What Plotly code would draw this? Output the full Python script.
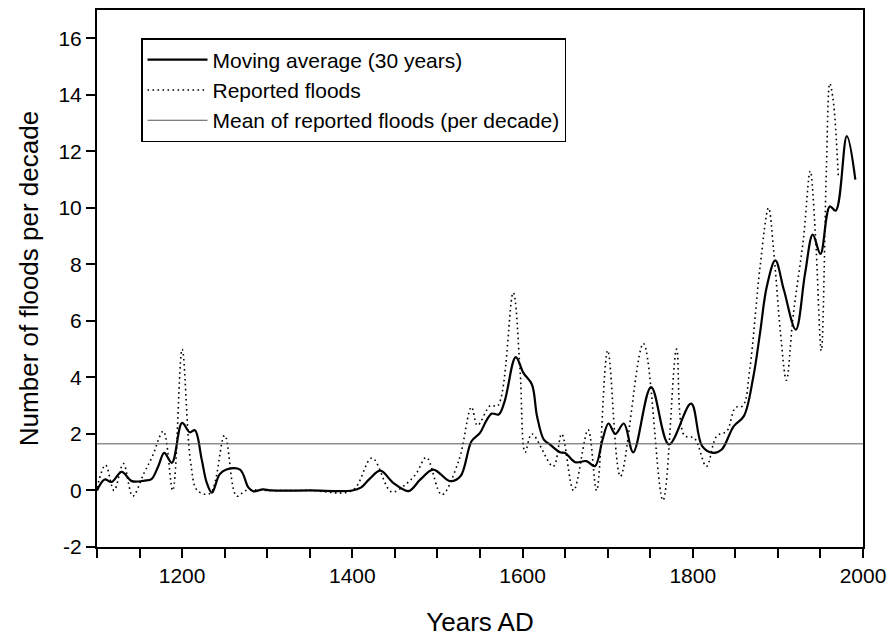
import plotly.graph_objects as go

# Reported floods (dotted curve)
flood_years = [1100, 1110, 1120, 1131, 1142, 1155, 1165, 1178, 1189, 1200,
               1210, 1218, 1233, 1250, 1264, 1275, 1300, 1350, 1400, 1423,
               1446, 1462, 1475, 1487, 1505, 1525, 1540, 1547, 1562, 1571,
               1589, 1597, 1603, 1611, 1636, 1646, 1660, 1677, 1687, 1700,
               1715, 1742, 1765, 1781, 1790, 1802, 1816, 1828, 1840, 1850,
               1859, 1867, 1879, 1889, 1895, 1903, 1910, 1918, 1930, 1938,
               1944, 1951, 1957, 1961, 1965, 1971]
flood_values = [0.1, 0.9, 0.0, 0.95, -0.2, 0.6, 1.2, 2.1, 0.0, 5.0,
                1.0, 0.0, -0.1, 1.95, -0.2, 0.0, 0.0, 0.0, 0.0, 1.15,
                -0.05, 0.2, 0.6, 1.17, -0.15, 1.05, 2.95, 2.3, 3.0, 3.0,
                7.0, 4.3, 1.35, 2.0, 0.85, 2.0, 0.0, 2.15, 0.0, 4.95,
                0.5, 5.2, -0.35, 5.0, 1.95, 1.85, 0.85, 1.92, 2.1, 2.93,
                3.0, 4.3, 7.9, 10.0, 8.5, 5.6, 3.9, 6.2, 8.9, 11.3,
                9.1, 4.95, 11.4, 14.4, 13.8, 11.1]

# Moving average (30 years), solid curve
ma_years = [1100, 1109, 1117, 1129, 1141, 1156, 1164, 1172, 1179, 1188,
            1200, 1209, 1215, 1223, 1229, 1235, 1244, 1252, 1268, 1278,
            1284, 1295, 1305, 1350, 1400, 1410, 1420, 1433, 1448, 1466,
            1480, 1495, 1515, 1527, 1540, 1550, 1558, 1564, 1572, 1579,
            1592, 1601, 1611, 1617, 1625, 1632, 1644, 1650, 1662, 1675,
            1685, 1694, 1701, 1709, 1719, 1730, 1751, 1772, 1798, 1811,
            1824, 1834, 1848, 1860, 1871, 1879, 1887, 1897, 1907, 1921,
            1932, 1941, 1950, 1961, 1968, 1981, 1991]
ma_values = [0.0, 0.39, 0.3, 0.66, 0.33, 0.35, 0.4, 0.86, 1.33, 0.98,
             2.39, 2.06, 2.13, 1.1, 0.27, -0.08, 0.57, 0.74, 0.74, 0.1,
             -0.03, 0.04, 0.0, 0.0, 0.0, 0.1, 0.4, 0.7, 0.27, -0.02,
             0.39, 0.74, 0.33, 0.5, 1.74, 2.04, 2.5, 2.72, 2.69, 3.16,
             4.72, 4.16, 3.75, 2.63, 1.8, 1.63, 1.35, 1.33, 1.0, 1.04,
             0.86, 1.8, 2.37, 2.0, 2.37, 1.35, 3.66, 1.63, 3.07, 1.57,
             1.33, 1.45, 2.27, 2.63, 4.0, 5.57, 7.22, 8.14, 7.1, 5.69,
             7.69, 9.05, 8.37, 10.05, 9.9, 12.54, 11.0]

# Mean of reported floods (per decade)
mean_years = [1100, 2000]
mean_value = 1.65

# Tick labels
y_tick_values = [-2, 0, 2, 4, 6, 8, 10, 12, 14, 16]
y_tick_labels = ["-2", "0", "2", "4", "6", "8", "10", "12", "14", "16"]
x_tick_values = [1200, 1400, 1600, 1800, 2000]
x_tick_labels = ["1200", "1400", "1600", "1800", "2000"]

FONT = "Liberation Sans, Arial, sans-serif"

fig = go.Figure()
fig.add_trace(go.Scatter(
    x=ma_years, y=ma_values, mode="lines",
    line=dict(color="black", width=2.2, shape="spline", smoothing=1.0),
    name="Moving average (30 years)"))
fig.add_trace(go.Scatter(
    x=flood_years, y=flood_values, mode="lines",
    line=dict(color="black", width=1.6, shape="spline", smoothing=1.0, dash="1.6px,3.4px"),
    name="Reported floods"))
fig.add_trace(go.Scatter(
    x=mean_years, y=[mean_value] * len(mean_years), mode="lines",
    line=dict(color="#555555", width=1),
    name="Mean of reported floods (per decade)"))

fig.update_layout(
    width=889, height=637,
    margin=dict(l=97, r=26, t=10, b=90, autoexpand=False),
    paper_bgcolor="white", plot_bgcolor="white",
    font=dict(family=FONT, color="black", size=21),
    showlegend=True,
    legend=dict(
        x=(141 - 97) / 766, y=(547 - 38) / 537, xanchor="left", yanchor="top",
        bordercolor="black", borderwidth=1.5, bgcolor="white",
        font=dict(family=FONT, size=21, color="black"),
        itemwidth=60, tracegroupgap=0,
    ),
)

fig.update_xaxes(
    range=[1100, 2000], tickvals=x_tick_values, ticktext=x_tick_labels,
    ticks="outside", ticklen=9, tickwidth=1.5, tickcolor="black",
    minor=dict(tick0=1100, dtick=50, ticks="outside", ticklen=9, tickwidth=1.5, tickcolor="black"),
    showline=True, linewidth=2, linecolor="black", mirror=True,
    showgrid=False, zeroline=False, automargin=False,
    tickfont=dict(size=21),
    title=dict(text="Years AD", font=dict(size=26), standoff=30),
)
fig.update_yaxes(
    range=[-2, 17], tickvals=y_tick_values, ticktext=y_tick_labels,
    ticks="outside", ticklen=9, tickwidth=1.5, tickcolor="black",
    showline=True, linewidth=2, linecolor="black", mirror=True,
    showgrid=False, zeroline=False, automargin=False,
    tickfont=dict(size=21),
    title=dict(text="Number of floods per decade", font=dict(size=26), standoff=12),
)

fig.write_html("out.html")
